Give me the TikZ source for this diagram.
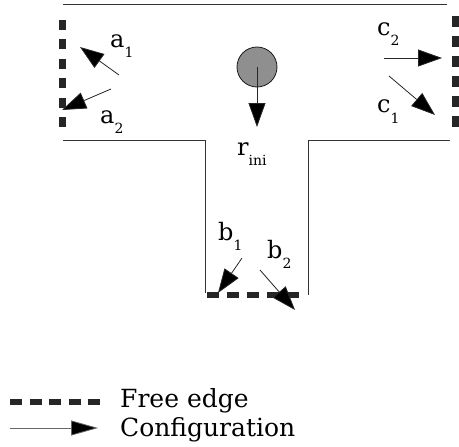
\documentclass[tikz,border=0pt]{standalone}
\usepackage{fontspec}
\setmainfont{DejaVu Serif}
\usetikzlibrary{arrows.meta}
\newcommand{\sublab}[2]{#1\raisebox{-10pt}{\fontsize{14}{14}\selectfont #2}}

\begin{document}
\begin{tikzpicture}[x=1pt, y=-1pt,
    wall/.style={draw=black!80, line width=0.9pt},
    freeedge/.style={draw=black!85, line width=7pt, dash pattern=on 10pt off 9.4pt},
    config/.style={draw=black!85, line width=0.8pt, -{Triangle[length=24pt,width=17pt,fill=black]}},
    lab/.style={inner sep=0pt, anchor=base west, font=\fontsize{24}{28}\selectfont}]
    \useasboundingbox (0,0) rectangle (459,447);

    % walls of the T
    \draw[wall] (63,4) -- (447,4);
    \draw[wall] (63,140) -- (205,140) -- (205,293);
    \draw[wall] (450,140) -- (308,140) -- (308,295);

    % free edges
    \draw[freeedge] (62,20) -- (62,128);
    \draw[freeedge, dash pattern=on 11pt off 9pt] (455,16) -- (455,128);
    \draw[freeedge, line width=6pt, dash pattern=on 12pt off 8pt] (207,295) -- (299,295);

    % robot and its start configuration
    \node[draw=black!90, circle, line width=0.8pt, fill=black!44, minimum size=40pt, inner sep=0pt] (robot) at (257,67) {};
    \coordinate (rend) at (257,127);
    \draw[config] (robot.center) -- (rend);
    \node[lab] (lr) at (237,155) {\sublab{r}{ini}};

    % configurations at the left free edge
    \coordinate (a1s) at (119,75);
    \coordinate (a1e) at (80,47);
    \coordinate (a2s) at (111,89);
    \coordinate (a2e) at (62,110);
    \draw[config] (a1s) -- (a1e);
    \draw[config] (a2s) -- (a2e);
    \node[lab] (la1) at (110,47) {\sublab{a}{1}};
    \node[lab] (la2) at (100,123) {\sublab{a}{2}};

    % configurations at the right free edge
    \coordinate (c2s) at (384,58);
    \coordinate (c2e) at (442,58);
    \coordinate (c1s) at (389,76);
    \coordinate (c1e) at (435,115);
    \draw[config] (c2s) -- (c2e);
    \draw[config] (c1s) -- (c1e);
    \node[lab] (lc2) at (377,35) {\sublab{c}{2}};
    \node[lab] (lc1) at (377,113) {\sublab{c}{1}};

    % configurations at the bottom free edge
    \coordinate (b1s) at (242,258);
    \coordinate (b1e) at (218,293);
    \coordinate (b2s) at (260,270);
    \coordinate (b2e) at (295,310);
    \draw[config] (b1s) -- (b1e);
    \draw[config] (b2s) -- (b2e);
    \node[lab] (lb1) at (218,240) {\sublab{b}{1}};
    \node[lab] (lb2) at (267,258) {\sublab{b}{2}};

    % legend
    \coordinate (k1s) at (10,402);
    \coordinate (k1e) at (100,402);
    \coordinate (k2s) at (10,428);
    \coordinate (k2e) at (98,428);
    \draw[freeedge, line width=6pt, dash pattern=on 12pt off 7.5pt] (k1s) -- (k1e);
    \draw[config, draw=black!60, {-{Triangle[length=27pt,width=15pt,fill=black]}}] (k2s) -- (k2e);
    \node[inner sep=0pt, anchor=west, font=\fontsize{25}{28}\selectfont] (legfree) at (120,401) {Free edge};
    \node[inner sep=0pt, anchor=west, font=\fontsize{25}{28}\selectfont] (legconf) at (120,430) {Configuration};
\end{tikzpicture}
\end{document}
